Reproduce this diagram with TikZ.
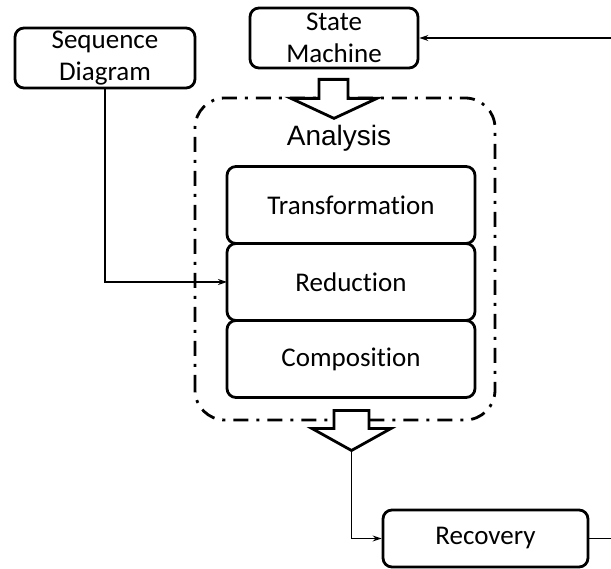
\documentclass[tikz,border=0pt]{standalone}
\usepackage{fontspec}
\setmainfont[Ligatures={NoCommon,NoContextual}]{Carlito}
\newfontfamily\labelfont{Liberation Sans}
\usetikzlibrary{positioning, calc, arrows.meta}
\tikzset{
    boxnode/.style={
        draw, line width=2.8pt, rounded corners=9pt, fill=white,
        inner sep=0pt, align=center, font=\fontsize{27}{32}\selectfont
    },
    stagenode/.style={
        boxnode, outer sep=0pt, minimum width=248pt, minimum height=77pt
    },
    conn/.style={
        -{Stealth[length=9pt,width=6pt]}, line width=1.8pt
    },
    blockarrow/.style={
        draw, line width=2.8pt, fill=white, line join=miter
    },
    groupframe/.style={
        line width=2.8pt, rounded corners=30pt,
        dash pattern=on 15pt off 8pt on 3pt off 8pt
    }
}

\begin{document}
\begin{tikzpicture}[x=1pt, y=1pt]
    \useasboundingbox (0,0) rectangle (611,569);

    % --- inputs
    \node[boxnode, minimum width=180pt, minimum height=60pt] (seq) at (105,511) {Sequence\\Diagram};
    \node[boxnode, minimum width=168pt, minimum height=60pt] (sm) at (334,531) {State\\Machine};

    % --- analysis group
    \draw[groupframe] (195,149) rectangle (495,471);
    \node[font=\labelfont\fontsize{28}{32}\selectfont] (ana) at (339,431) {Analysis};
    \node[stagenode] (trans) at (351,364) {Transformation};
    \node[stagenode, below=0pt of trans] (red) {Reduction};
    \node[stagenode, below=0pt of red] (comp) {Composition};

    % --- recovery
    \node[boxnode, minimum width=205pt, minimum height=57pt] (rec) at (485.5,30.5) {Recovery};

    % --- block arrows
    \draw[blockarrow] ($(sm.south)+(-15,-10)$) -- ++(29,0) -- ++(0,-19) -- ++(29,0)
        -- ++(-43,-20) -- ++(-43,20) -- ++(28,0) -- cycle;
    \draw[blockarrow] ($(comp.south)+(-17,-13)$) -- ++(35,0) -- ++(0,-18) -- ++(22,0)
        -- ++(-39.5,-22) -- ++(-39.5,22) -- ++(22,0) -- cycle;
    \coordinate (tip) at ($(comp.south)+(0.5,-53)$);

    % --- connectors
    \draw[conn] (seq.south) |- (red.west);
    \draw[conn] (tip) |- (rec.west);
    \coordinate (fbin) at (615,531);
    \coordinate (fbout) at (615,30.5);
    \draw[conn] (fbin) -- (sm.east);
    \draw[line width=1.8pt] (rec.east) -- (fbout);
\end{tikzpicture}
\end{document}
